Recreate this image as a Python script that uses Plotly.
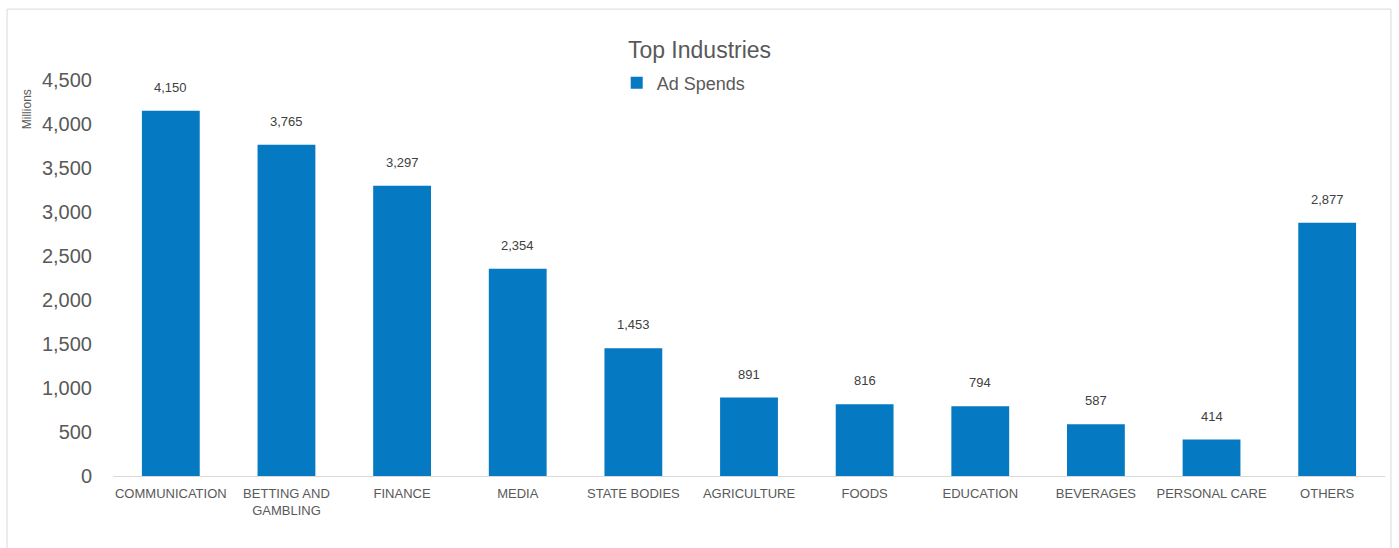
import plotly.graph_objects as go

# Advertising spend by industry (millions)
industries = ["COMMUNICATION", "BETTING AND<br>GAMBLING", "FINANCE", "MEDIA", "STATE BODIES",
              "AGRICULTURE", "FOODS", "EDUCATION", "BEVERAGES", "PERSONAL CARE", "OTHERS"]
ad_spends = [4150, 3765, 3297, 2354, 1453, 891, 816, 794, 587, 414, 2877]
y_ticks = [0, 500, 1000, 1500, 2000, 2500, 3000, 3500, 4000, 4500]

BAR = "#0579C1"
TXT = "#595959"
FONT = "Liberation Sans, Arial, sans-serif"

fig = go.Figure()
fig.add_trace(go.Bar(
    x=industries, y=ad_spends, name="Ad Spends",
    marker=dict(color=BAR, line=dict(width=0)),
    hovertemplate="%{x}: %{y:,}<extra></extra>",
))

# value labels floating above each bar
for cat, val in zip(industries, ad_spends):
    fig.add_annotation(x=cat, y=val, text=f"{val:,}", showarrow=False,
                       xref="x", yref="y", yanchor="bottom", yshift=14,
                       font=dict(family=FONT, size=13, color="#404040"))

# display-unit label beside the value axis
fig.add_annotation(text="Millions", textangle=-90, showarrow=False,
                   xref="paper", yref="paper", x=-0.068, y=0.925,
                   xanchor="center", yanchor="middle",
                   font=dict(family=FONT, size=12, color=TXT))

# outer chart frame
fig.add_shape(type="rect", xref="paper", yref="paper",
              x0=-0.0833, x1=1.0047, y0=-0.4, y1=1.179,
              line=dict(color="#D9D9D9", width=1), layer="below")

fig.update_layout(
    width=1399, height=548,
    margin=dict(l=113, r=14, t=80, b=72),
    paper_bgcolor="white", plot_bgcolor="white",
    font=dict(family=FONT, color=TXT),
    title=dict(text="Top Industries", x=0.5, xref="container", y=1 - 50 / 548,
               yref="container", xanchor="center", yanchor="middle",
               font=dict(family=FONT, size=23, color=TXT)),
    showlegend=True,
    legend=dict(orientation="h", x=0.396, y=0.992, xanchor="left", yanchor="middle",
                font=dict(family=FONT, size=18, color=TXT), bgcolor="rgba(0,0,0,0)"),
    bargap=0.5,
    xaxis=dict(showgrid=False, showline=True, linecolor="#D9D9D9", linewidth=1,
               ticks="", ticklabelstandoff=5,
               tickfont=dict(family=FONT, size=13, color=TXT),
               zeroline=False),
    yaxis=dict(range=[0, 4500], tickvals=y_ticks, tickformat=",",
               showgrid=False, showline=False, zeroline=False, ticks="",
               ticklabelstandoff=20,
               tickfont=dict(family=FONT, size=20, color=TXT)),
)

fig.write_html("out.html")
